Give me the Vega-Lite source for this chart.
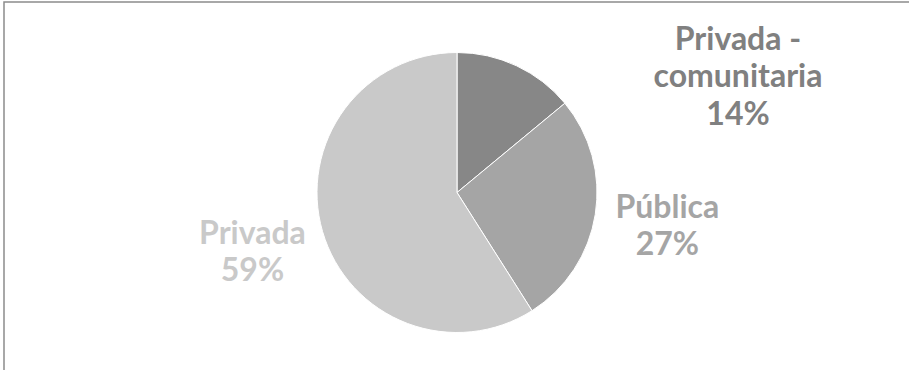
{
  "$schema": "https://vega.github.io/schema/vega-lite/v6.json",
  "width": 906,
  "height": 381,
  "autosize": {"type": "none"},
  "padding": {"left": 4, "top": 2, "right": 0, "bottom": 0},
  "background": "white",
  "view": {"stroke": "#8c8c8c", "strokeWidth": 1.5},
  "data": {
    "values": [
      {"tipo": "Privada - comunitaria", "pct": 14, "orden": 1, "etiqueta": "Privada -\ncomunitaria\n14%"},
      {"tipo": "Pública", "pct": 27, "orden": 2, "etiqueta": "Pública\n27%"},
      {"tipo": "Privada", "pct": 59, "orden": 3, "etiqueta": "Privada\n59%"}
    ]
  },
  "encoding": {
    "theta": {"field": "pct", "type": "quantitative", "stack": true},
    "order": {"field": "orden", "type": "ordinal"},
    "color": {
      "field": "tipo",
      "type": "nominal",
      "scale": {"domain": ["Privada - comunitaria", "Pública", "Privada"], "range": ["#878787", "#a5a5a5", "#c9c9c9"]},
      "legend": null
    }
  },
  "layer": [
    {"mark": {"type": "arc", "outerRadius": 140, "stroke": "white", "strokeWidth": 1}},
    {
      "mark": {"type": "text", "radius": 213, "dy": -18, "font": "Lato", "fontWeight": "bold", "fontSize": 32, "lineBreak": "\n", "lineHeight": 37.5, "baseline": "middle", "align": "center"},
      "encoding": {"text": {"condition": {"test": "datum.orden == 1", "value": ""}, "field": "etiqueta"}}
    },
    {
      "mark": {"type": "text", "radius": 0, "dx": 281, "dy": -153, "font": "Lato", "fontWeight": "bold", "fontSize": 32, "lineBreak": "\n", "lineHeight": 37.5, "baseline": "middle", "align": "center"},
      "encoding": {
        "text": {"condition": {"test": "datum.orden == 1", "field": "etiqueta"}, "value": ""},
        "color": {"value": "#808080"}
      }
    }
  ]
}
